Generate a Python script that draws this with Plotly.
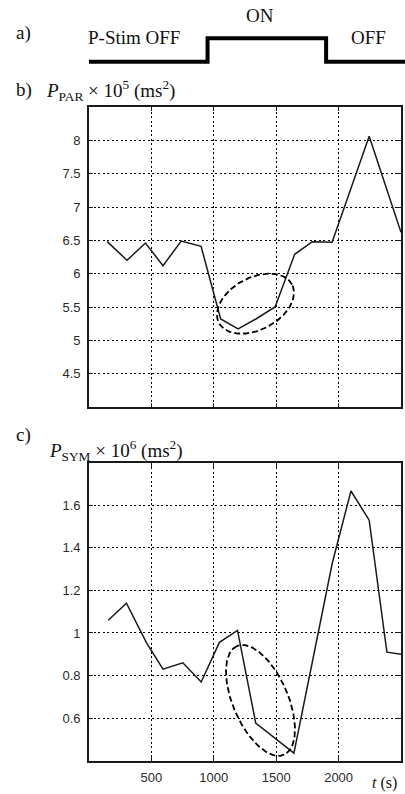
import numpy as np
import plotly.graph_objects as go

# ---------------- data ----------------
stim_t = [0, 950, 950, 1900, 1900, 2600]
stim_state = [0, 0, 1, 1, 0, 0]

par_t = [146, 305, 452, 593, 739, 898, 1055, 1195, 1337, 1491, 1648, 1789, 1948, 2245, 2500]
par_val = [6.48, 6.20, 6.46, 6.12, 6.49, 6.41, 5.32, 5.17, 5.32, 5.50, 6.29, 6.48, 6.47, 8.06, 6.62]

sym_t = [154, 300, 460, 593, 752, 899, 1045, 1190, 1336, 1642, 1950, 2099, 2245, 2387, 2500]
sym_val = [1.06, 1.14, 0.955, 0.83, 0.86, 0.77, 0.956, 1.012, 0.577, 0.436, 1.33, 1.667, 1.53, 0.91, 0.90]

x_ticks = [500, 1000, 1500, 2000]
x_tick_text = ["500", "1000", "1500", "2000"]
par_ticks = [4.5, 5, 5.5, 6, 6.5, 7, 7.5, 8]
par_tick_text = ["4.5", "5", "5.5", "6", "6.5", "7", "7.5", "8"]
sym_ticks = [0.6, 0.8, 1.0, 1.2, 1.4, 1.6]
sym_tick_text = ["0.6", "0.8", "1", "1.2", "1.4", "1.6"]

# ellipse highlights: centre (data), semi-axes (px), angle (deg)
ell_par = dict(cx=1334, cy=5.55, a=41.3, b=26.1, ang=27.6)
ell_sym = dict(cx=1374, cy=0.683, a=59.2, b=27.6, ang=113.3)

# ---------------- layout geometry ----------------
W, H = 405, 794
X_L, X_R = 89, 401
B_T, B_B = 107, 407
C_T, C_B = 462.7, 760.7
X_RANGE = [0, 2500]
PAR_RANGE = [4, 8.5]
SYM_RANGE = [0.4, 1.8]


def ellipse(p, yrange, top, bot):
    dx = (X_RANGE[1] - X_RANGE[0]) / (X_R - X_L)
    dy = (yrange[1] - yrange[0]) / (bot - top)
    t = np.linspace(0, 2 * np.pi, 200)
    th = np.radians(p["ang"])
    ex = p["a"] * np.cos(th) * np.cos(t) - p["b"] * np.sin(th) * np.sin(t)
    ey = p["a"] * np.sin(th) * np.cos(t) + p["b"] * np.cos(th) * np.sin(t)
    return p["cx"] + ex * dx, p["cy"] + ey * dy


fig = go.Figure()

LINE_C = "#1a1a1a"
fig.add_trace(go.Scatter(x=stim_t, y=stim_state, mode="lines",
                         line=dict(color="#000", width=4, shape="linear"),
                         xaxis="x3", yaxis="y3", hoverinfo="skip"))
fig.add_trace(go.Scatter(x=par_t, y=par_val, mode="lines",
                         line=dict(color=LINE_C, width=1.5), xaxis="x", yaxis="y"))
ex, ey = ellipse(ell_par, PAR_RANGE, B_T, B_B)
fig.add_trace(go.Scatter(x=ex, y=ey, mode="lines",
                         line=dict(color="#000", width=1.8, dash="6px,3px"), xaxis="x", yaxis="y"))
fig.add_trace(go.Scatter(x=sym_t, y=sym_val, mode="lines",
                         line=dict(color=LINE_C, width=1.5), xaxis="x2", yaxis="y2"))
ex, ey = ellipse(ell_sym, SYM_RANGE, C_T, C_B)
fig.add_trace(go.Scatter(x=ex, y=ey, mode="lines",
                         line=dict(color="#000", width=1.8, dash="6px,3px"), xaxis="x2", yaxis="y2"))

xdom = [X_L / W, X_R / W]
tickfont = dict(family="Liberation Sans, Arial, sans-serif", size=13, color="#2a2a2a")
common = dict(showline=True, linecolor="#1a1a1a", linewidth=1.6, mirror="ticks",
              ticks="inside", ticklen=4, tickcolor="#1a1a1a",
              showgrid=True, gridcolor="#000", gridwidth=1.3, griddash="2px,2.5px",
              zeroline=False, tickfont=tickfont, fixedrange=True)

a_low, a_high = 61.7, 38.3
unit = a_low - a_high
y3dom = [1 - (a_low + unit / 2) / H, 1 - (a_high - unit / 2) / H]
x3_end = X_RANGE[1] * (W - X_L) / (X_R - X_L)

fig.update_layout(
    width=W, height=H, margin=dict(l=0, r=0, t=0, b=0),
    paper_bgcolor="white", plot_bgcolor="white", showlegend=False,
    xaxis=dict(domain=xdom, range=X_RANGE, anchor="y", tickvals=x_ticks,
               showticklabels=False, **common),
    yaxis=dict(domain=[1 - B_B / H, 1 - B_T / H], range=PAR_RANGE, anchor="x",
               tickvals=par_ticks, ticktext=par_tick_text, ticklabelstandoff=4, **common),
    xaxis2=dict(domain=xdom, range=X_RANGE, anchor="y2", tickvals=x_ticks,
                ticktext=x_tick_text, ticklabelstandoff=4, **common),
    yaxis2=dict(domain=[1 - C_B / H, 1 - C_T / H], range=SYM_RANGE, anchor="x2",
                tickvals=sym_ticks, ticktext=sym_tick_text, ticklabelstandoff=4, **common),
    xaxis3=dict(domain=[X_L / W, 1.0], range=[0, x3_end], anchor="y3", visible=False, fixedrange=True),
    yaxis3=dict(domain=y3dom, range=[-0.5, 1.5], anchor="x3", visible=False, fixedrange=True),
)

SERIF = "Liberation Serif, Times New Roman, serif"


def label(text, px, py, xanchor="left", size=19, family=SERIF, color="#111"):
    fig.add_annotation(text=text, x=px / W, y=1 - py / H, xref="paper", yref="paper",
                       xanchor=xanchor, yanchor="middle", showarrow=False,
                       font=dict(family=family, size=size, color=color))


label("a)", 14, 33)
label("P-Stim OFF", 134, 38, xanchor="center")
label("ON", 260, 15, xanchor="center")
label("OFF", 368, 38, xanchor="center")
label("b)", 14, 90)
label("<i>P</i><sub>PAR</sub> × 10<sup>5</sup> (ms<sup>2</sup>)", 44, 90)
label("c)", 14, 435)
label("<i>P</i><sub>SYM</sub> × 10<sup>6</sup> (ms<sup>2</sup>)", 47, 450)
label("<i>t</i> (s)", 370, 783, size=16)

fig.write_html("out.html", config={"displayModeBar": False},
               post_script="document.body.style.margin='0';document.body.style.overflow='hidden';")
